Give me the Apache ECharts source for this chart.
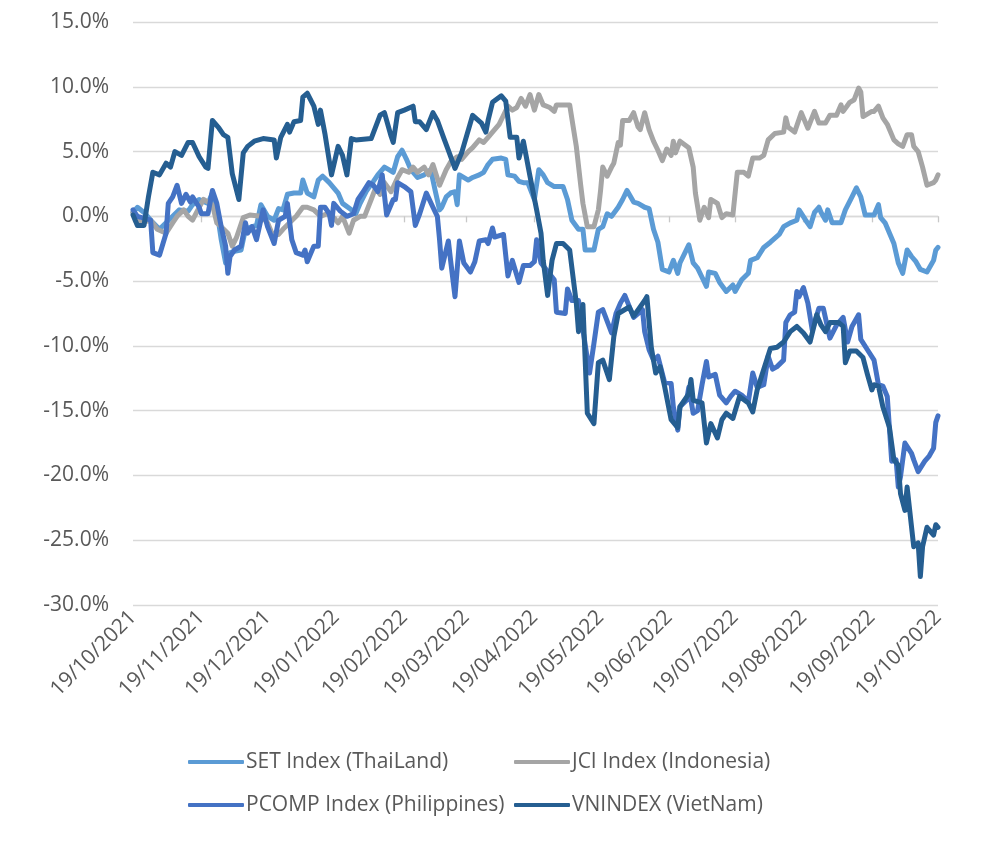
<!DOCTYPE html>
<html>
<head>
<meta charset="utf-8">
<script src="https://cdn.jsdelivr.net/npm/echarts@6/dist/echarts.min.js"></script>
<style>
html,body{margin:0;padding:0;background:#fff;}
#chart{width:1008px;height:846px;}
</style>
</head>
<body>
<div id="chart"></div>
<script>
// Day offsets from 19/10/2021 paired with % change
const seriesNames = ['SET Index (ThaiLand)', 'JCI Index (Indonesia)', 'PCOMP Index (Philippines)', 'VNINDEX (VietNam)'];
const seriesColors = ['#5B9BD5', '#A5A5A5', '#4472C4', '#255E91'];
const startDate = [2021, 9, 19];
const dayCount = 366;
const yTicks = { min: -30, max: 15, step: 5 };

const setData = [[0,0.3],[2,0.7],[5,0.3],[8,-0.3],[12,-1.0],[15,-0.5],[18,0],[21,0.5],[25,0.4],[27,0.9],[30,1.3],[34,1.0],[36,1.8],[38,0.5],[40,-1.8],[42,-3.6],[44,-2.8],[46,-2.7],[49,-2.6],[51,-1.0],[54,-0.8],[56,-0.7],[58,0.9],[61,0],[64,-0.3],[66,0.6],[68,0.5],[70,1.7],[73,1.8],[76,1.8],[77,2.8],[79,1.8],[82,1.5],[84,2.8],[86,3.1],[89,2.6],[91,2.2],[93,1.8],[95,1.0],[99,0.5],[101,0.2],[103,1.0],[106,2.0],[109,2.7],[111,3.2],[114,3.8],[116,3.6],[118,3.4],[120,4.6],[122,5.1],[124,4.4],[126,3.6],[129,3.0],[132,3.2],[135,3.6],[137,2.0],[139,0.5],[140,0.7],[142,1.5],[144,1.8],[146,1.9],[147,0.9],[148,3.2],[152,2.8],[154,3.0],[157,3.2],[159,3.4],[161,4.0],[163,4.4],[167,4.5],[169,4.4],[170,3.2],[173,3.1],[175,2.7],[177,2.6],[179,2.6],[182,1.3],[184,3.6],[186,3.2],[188,2.6],[191,2.3],[195,2.3],[197,1.3],[199,-0.3],[202,-1.0],[204,-1.0],[205,-2.6],[209,-2.6],[211,-1.0],[213,-0.8],[215,0.2],[217,0],[220,0.7],[222,1.3],[224,2.0],[227,1.1],[229,1.0],[232,0.7],[234,0.6],[236,-1.0],[238,-2.0],[240,-4.1],[243,-4.3],[245,-3.4],[247,-4.4],[248,-3.6],[252,-2.2],[254,-3.6],[256,-4.0],[258,-4.7],[260,-5.4],[261,-4.3],[264,-4.4],[266,-5.1],[269,-5.8],[272,-5.3],[273,-5.8],[276,-4.9],[279,-4.4],[280,-3.4],[283,-3.2],[286,-2.4],[289,-2.0],[293,-1.4],[295,-0.8],[298,-0.5],[301,-0.3],[302,0.5],[305,-0.3],[307,-0.8],[309,0.3],[311,0.7],[312,0.3],[314,-0.3],[315,0.5],[317,-0.5],[321,-0.5],[323,0.5],[326,1.5],[328,2.2],[330,1.5],[332,0.1],[336,0.1],[338,0.9],[339,-0.1],[341,-0.5],[345,-2.1],[347,-3.6],[349,-4.4],[351,-2.6],[353,-3.1],[355,-3.5],[357,-4.1],[360,-4.3],[362,-3.7],[363,-3.4],[364,-2.6],[365,-2.4]];

const jciData = [[0,0.3],[3,-0.5],[8,-0.3],[11,-1.0],[15,-1.3],[18,-0.5],[20,0],[23,0.5],[25,0],[27,-0.3],[30,0.7],[32,1.3],[36,0.9],[38,-0.5],[40,-0.8],[43,-1.3],[45,-2.3],[47,-1.6],[50,-0.1],[53,0.1],[58,0],[61,-0.5],[63,-1.3],[66,-1.4],[68,-1.0],[71,-0.5],[74,0],[77,0.7],[79,0.7],[82,0.5],[85,0],[88,0.2],[91,-0.1],[93,-0.5],[95,0],[98,-1.3],[100,-0.3],[103,0],[105,0],[108,1.3],[110,2.2],[112,1.7],[114,2.6],[117,1.9],[120,3.0],[122,3.6],[125,3.4],[127,3.8],[129,3.4],[132,3.8],[134,3.2],[136,4.0],[139,2.4],[142,3.6],[144,4.2],[147,4.6],[149,4.4],[152,5.0],[154,5.3],[157,5.9],[159,5.7],[161,6.1],[163,6.5],[166,7.1],[168,7.8],[170,8.5],[172,8.2],[174,8.4],[176,9.1],[178,8.5],[180,9.4],[182,8.2],[184,9.4],[186,8.6],[189,8.4],[191,8.1],[192,8.6],[198,8.6],[201,5.4],[203,2.4],[204,1.0],[206,-0.8],[209,-0.8],[211,0.5],[212,2.0],[213,3.8],[215,3.1],[217,3.8],[218,4.1],[220,5.7],[221,5.5],[222,7.4],[225,7.4],[227,8.0],[229,6.9],[230,6.7],[232,8.0],[234,6.7],[236,5.8],[238,5.1],[240,4.3],[242,5.2],[244,4.7],[245,5.8],[246,4.9],[248,5.8],[252,5.3],[254,3.8],[255,1.8],[257,-0.3],[259,0.7],[261,-0.1],[262,1.3],[265,1.0],[267,-0.1],[269,0.2],[272,0.1],[274,3.4],[277,3.4],[279,3.1],[281,4.5],[284,4.5],[286,4.7],[288,5.9],[291,6.4],[295,6.5],[296,7.6],[297,6.9],[300,6.5],[303,8.0],[304,7.6],[306,6.8],[309,8.1],[311,7.2],[314,7.2],[316,7.8],[319,7.8],[321,8.6],[322,8.1],[325,8.8],[327,9.0],[329,9.9],[330,9.6],[331,7.7],[335,8.1],[336,8.1],[338,8.5],[340,7.6],[342,7.1],[345,5.9],[347,5.6],[349,5.4],[351,6.3],[353,6.3],[354,5.4],[356,5.0],[358,3.8],[360,2.4],[363,2.6],[364,2.8],[365,3.2]];

const pcompData = [[0,0.5],[2,0],[8,-0.3],[9,-2.8],[12,-3.0],[15,-1.3],[16,1.0],[18,1.5],[20,2.4],[22,1.0],[24,1.7],[26,1.1],[27,1.5],[30,0.7],[31,0.2],[34,0.2],[36,2.0],[38,1.0],[40,-0.8],[42,-2.3],[43,-4.4],[44,-3.1],[46,-2.6],[49,-2.3],[51,-0.5],[52,-1.3],[54,-0.8],[56,-1.8],[59,0.5],[61,-0.8],[64,-2.1],[66,-0.3],[69,0],[70,1.0],[72,-1.8],[74,-2.8],[77,-3.0],[78,-2.6],[79,-3.5],[82,-2.3],[84,-2.3],[85,0.7],[87,0.7],[89,0.2],[90,-0.7],[91,1.0],[94,0.4],[97,0],[100,0.2],[102,1.3],[104,1.8],[107,2.6],[109,2.4],[111,1.9],[113,3.2],[115,0.1],[118,1.3],[119,1.3],[120,2.6],[123,2.3],[126,1.9],[128,-0.7],[130,0.2],[133,1.8],[136,0.7],[138,0],[139,-1.8],[140,-4.0],[143,-1.9],[144,-3.4],[146,-6.2],[148,-1.9],[150,-3.6],[153,-4.3],[155,-3.5],[157,-1.9],[160,-1.8],[161,-2.1],[163,-0.9],[164,-1.6],[168,-1.4],[170,-4.6],[172,-3.4],[175,-5.1],[177,-3.8],[180,-3.8],[182,-3.5],[183,-1.8],[185,-3.6],[191,-4.9],[192,-7.4],[196,-7.5],[197,-5.6],[199,-6.5],[202,-6.5],[207,-12.1],[209,-9.8],[211,-7.4],[213,-7.2],[217,-9.0],[219,-7.5],[221,-6.7],[223,-6.1],[227,-7.8],[229,-7.5],[231,-7.2],[232,-8.9],[234,-10.3],[236,-11.1],[238,-10.8],[241,-12.8],[244,-12.9],[245,-14.7],[247,-16.5],[248,-14.7],[251,-14.2],[252,-13.2],[254,-15.2],[256,-15.0],[258,-13.0],[260,-11.2],[261,-12.4],[264,-12.2],[266,-13.8],[269,-14.4],[271,-13.9],[273,-13.5],[276,-13.8],[279,-14.3],[281,-12.1],[283,-13.2],[286,-13.0],[288,-10.8],[290,-11.8],[292,-11.6],[295,-11.1],[296,-8.2],[298,-7.6],[300,-7.4],[301,-5.8],[302,-6.2],[304,-5.5],[306,-6.7],[308,-8.8],[311,-7.1],[313,-7.1],[316,-9.4],[319,-8.4],[322,-7.8],[324,-9.7],[326,-8.5],[329,-7.6],[330,-9.5],[333,-10.3],[336,-11.1],[338,-13.0],[340,-13.1],[342,-13.9],[344,-18.9],[346,-18.8],[347,-20.9],[348,-20.1],[350,-17.5],[353,-18.3],[354,-18.8],[356,-19.7],[359,-18.9],[361,-18.5],[363,-17.9],[364,-15.9],[365,-15.4]];

const vnData = [[0,0.1],[2,-0.7],[5,-0.7],[7,1.5],[9,3.4],[12,3.2],[15,4.1],[17,3.8],[19,5.0],[22,4.7],[25,5.7],[27,5.7],[30,4.6],[33,3.8],[34,3.7],[36,7.4],[39,6.8],[41,6.3],[43,6.1],[45,3.3],[48,1.3],[50,4.9],[52,5.4],[55,5.8],[59,6.0],[64,5.9],[65,4.5],[67,6.1],[70,7.1],[71,6.5],[73,7.3],[76,7.4],[77,9.2],[79,9.5],[82,8.5],[84,7.1],[85,8.2],[87,6.4],[90,3.2],[93,5.4],[95,4.7],[97,3.2],[99,6.0],[101,5.9],[108,6.0],[112,7.8],[114,8.0],[117,6.2],[118,5.7],[120,8.0],[123,8.2],[127,8.5],[128,7.3],[130,7.3],[133,6.7],[136,8.0],[138,7.4],[141,6.0],[143,5.1],[146,3.7],[149,4.9],[154,7.8],[158,7.2],[160,6.5],[161,7.4],[163,8.8],[167,9.3],[169,8.9],[171,6.1],[174,6.1],[175,4.5],[177,5.8],[180,3.1],[183,0.5],[185,-1.3],[186,-3.4],[188,-6.1],[190,-3.4],[192,-2.1],[195,-2.1],[198,-2.6],[201,-6.7],[202,-8.9],[204,-6.8],[206,-15.2],[209,-16.0],[211,-11.3],[213,-11.1],[216,-12.6],[218,-9.3],[220,-7.5],[225,-7.0],[227,-7.7],[232,-6.5],[233,-6.2],[235,-10.1],[237,-12.1],[239,-11.6],[241,-13.1],[244,-15.7],[247,-16.3],[248,-14.7],[252,-13.7],[253,-12.6],[254,-14.2],[258,-14.4],[260,-17.5],[262,-16.0],[265,-17.1],[267,-15.7],[269,-15.2],[272,-15.6],[275,-13.9],[279,-14.4],[281,-15.1],[283,-13.4],[286,-11.8],[289,-10.2],[292,-10.1],[295,-9.7],[298,-8.9],[301,-8.5],[304,-9.0],[307,-9.7],[310,-7.6],[312,-8.4],[314,-8.9],[316,-8.2],[320,-8.2],[322,-8.5],[323,-11.3],[325,-10.4],[328,-10.4],[331,-10.9],[333,-12.2],[335,-13.4],[336,-13.0],[338,-13.1],[340,-14.7],[343,-16.3],[345,-18.8],[347,-19.2],[348,-21.4],[350,-22.7],[351,-20.9],[354,-25.5],[356,-25.2],[357,-27.8],[358,-25.5],[360,-24.0],[363,-24.6],[364,-23.8],[365,-24.0]];

const allData = [setData, jciData, pcompData, vnData];

// category labels: every calendar day
const categories = [];
const t0 = Date.UTC(startDate[0], startDate[1], startDate[2]);
for (let i = 0; i < dayCount; i++) {
  const d = new Date(t0 + i * 86400000);
  const dd = String(d.getUTCDate()).padStart(2, '0');
  const mm = String(d.getUTCMonth() + 1).padStart(2, '0');
  categories.push(dd + '/' + mm + '/' + d.getUTCFullYear());
}
const isTick = (idx) => categories[idx].startsWith('19/');

const FONT = 'Open Sans';
const TXT = '#595959';
const GRID = '#D9D9D9';

const chart = echarts.init(document.getElementById('chart'), null, { renderer: 'canvas' });

const legendPos = [[188, 751], [514, 751], [188, 794], [514, 794]];

chart.setOption({
  animation: false,
  backgroundColor: '#ffffff',
  grid: { left: 133, right: 70, top: 22, bottom: 241, containLabel: false },
  legend: seriesNames.map((n, i) => ({
    data: [n],
    left: legendPos[i][0],
    top: legendPos[i][1],
    padding: 0,
    icon: 'roundRect',
    itemWidth: 56,
    itemHeight: 4,
    itemStyle: { borderWidth: 0 },
    textStyle: { fontFamily: FONT, fontSize: 21, color: TXT, lineHeight: 22, padding: [0, 0, 0, -3] },
    selectedMode: false
  })),
  xAxis: [
    {
      type: 'category',
      data: categories,
      boundaryGap: false,
      position: 'bottom',
      axisLine: { show: false, onZero: false },
      axisTick: { show: false },
      splitLine: { show: false },
      axisLabel: {
        interval: isTick,
        rotate: 45,
        margin: 9,
        fontFamily: FONT,
        fontSize: 21,
        color: TXT,
        showMinLabel: true,
        showMaxLabel: true
      }
    },
    {
      type: 'category',
      show: true,
      data: categories,
      boundaryGap: false,
      position: 'bottom',
      axisLine: { show: true, onZero: true, lineStyle: { color: GRID, width: 1.3 } },
      axisTick: { show: true, interval: isTick, length: 6, inside: false, lineStyle: { color: '#C8C8C8', width: 1.3 } },
      axisLabel: { show: false },
      splitLine: { show: false }
    }
  ],
  yAxis: {
    type: 'value',
    min: yTicks.min,
    max: yTicks.max,
    interval: yTicks.step,
    axisLine: { show: false },
    axisTick: { show: false },
    splitLine: { show: true, lineStyle: { color: GRID, width: 1.3 } },
    axisLabel: {
      margin: 24,
      fontFamily: FONT,
      fontSize: 21,
      color: TXT,
      formatter: v => v.toFixed(1) + '%'
    }
  },
  series: seriesNames.map((n, i) => ({
    name: n,
    type: 'line',
    xAxisIndex: 0,
    data: allData[i],
    showSymbol: false,
    symbol: 'none',
    smooth: false,
    color: seriesColors[i],
    lineStyle: { color: seriesColors[i], width: 5, cap: 'round', join: 'round' },
    z: 2 + i
  }))
});
</script>
</body>
</html>
